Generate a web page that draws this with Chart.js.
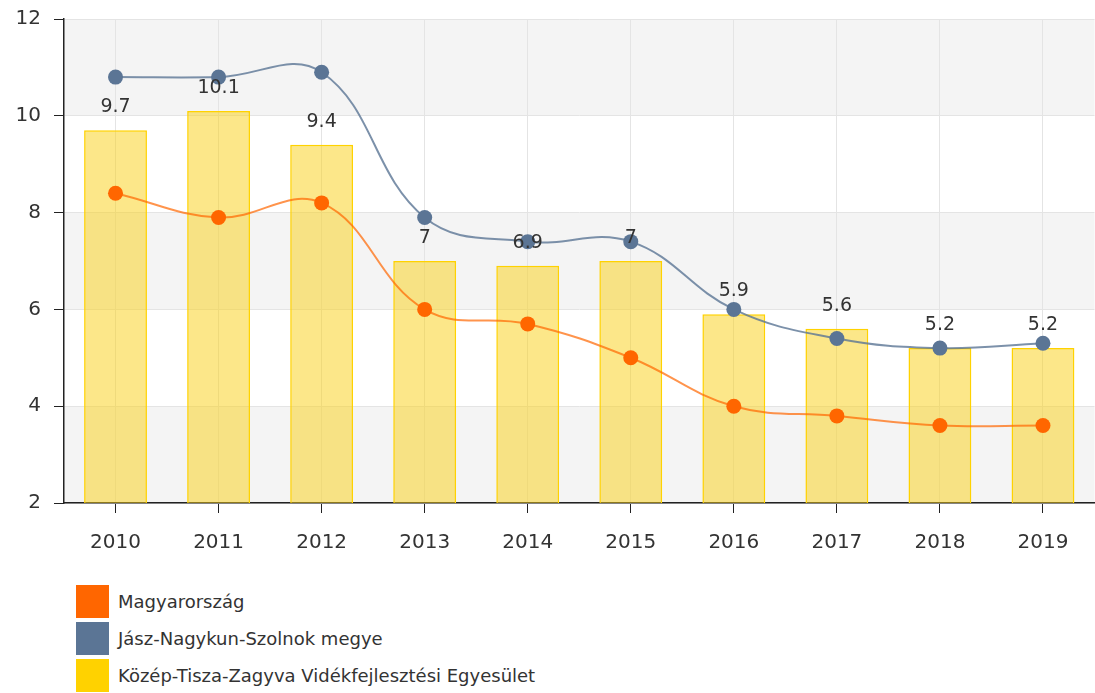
<!DOCTYPE html>
<html>
<head>
<meta charset="utf-8">
<script src="https://cdn.jsdelivr.net/npm/chart.js@4"></script>
<style>
  html, body { margin: 0; padding: 0; background: #fff; overflow: hidden; }
  #wrap { position: absolute; left: 0; top: 0; width: 1102px; height: 562px; }
  #legend { position: absolute; left: 76px; top: 584px; font-family: "DejaVu Sans", sans-serif; font-size: 18px; color: #333; }
  .item { display: flex; align-items: center; height: 35px; margin-bottom: 2px; }
  .box { width: 33px; height: 33px; margin-right: 9px; }
</style>
</head>
<body>
<div id="wrap"><canvas id="chart"></canvas></div>
<div id="legend"></div>
<script>
const years = ['2010', '2011', '2012', '2013', '2014', '2015', '2016', '2017', '2018', '2019'];
const hungary = [8.4, 7.9, 8.2, 6.0, 5.7, 5.0, 4.0, 3.8, 3.6, 3.6];
const county  = [10.8, 10.8, 10.9, 7.9, 7.4, 7.4, 6.0, 5.4, 5.2, 5.3];
const region  = [9.7, 10.1, 9.4, 7, 6.9, 7, 5.9, 5.6, 5.2, 5.2];
const names = [
  'Magyarország',
  'Jász-Nagykun-Szolnok megye',
  'Közép-Tisza-Zagyva Vidékfejlesztési Egyesület'
];
const colors = ['#ff6600', '#5b7595', '#ffd200'];

const fontFamily = '"DejaVu Sans", sans-serif';

// grey bands between every other pair of y ticks
const bands = {
  id: 'bands',
  beforeDraw: function(chart) {
    const ctx = chart.ctx, y = chart.scales.y, area = chart.chartArea;
    ctx.save();
    ctx.fillStyle = '#f4f4f4';
    for (let v = 12; v > 2; v -= 4) {
      const top = y.getPixelForValue(v), bottom = y.getPixelForValue(v - 2);
      ctx.fillRect(area.left, top, area.right - area.left, bottom - top);
    }
    ctx.restore();
  }
};

// value labels above the bars
const barLabels = {
  id: 'barLabels',
  afterDatasetsDraw: function(chart) {
    const ctx = chart.ctx;
    const meta = chart.getDatasetMeta(2);
    ctx.save();
    ctx.font = '19px ' + fontFamily;
    ctx.fillStyle = '#333';
    ctx.textAlign = 'center';
    ctx.textBaseline = 'middle';
    meta.data.forEach((bar, i) => {
      ctx.fillText(String(region[i]), bar.x, bar.y - 23);
    });
    ctx.restore();
  }
};

const ctx = document.getElementById('chart');

new Chart(ctx, {
  data: {
    labels: years,
    datasets: [{
      type: 'line',
      label: names[0],
      data: hungary,
      borderColor: 'rgba(255,102,0,0.7)',
      backgroundColor: colors[0],
      pointBackgroundColor: colors[0],
      pointBorderWidth: 0,
      pointRadius: 7.5,
      borderWidth: 2,
      tension: 0.4,
      order: 1
    }, {
      type: 'line',
      label: names[1],
      data: county,
      borderColor: 'rgba(91,117,149,0.8)',
      backgroundColor: colors[1],
      pointBackgroundColor: colors[1],
      pointBorderWidth: 0,
      pointRadius: 7.5,
      borderWidth: 2,
      tension: 0.4,
      order: 2
    }, {
      type: 'bar',
      label: names[2],
      data: region,
      backgroundColor: 'rgba(250,208,20,0.5)',
      borderColor: colors[2],
      borderWidth: 1.5,
      categoryPercentage: 1,
      barPercentage: 0.61,
      order: 3
    }]
  },
  options: {
    responsive: true,
    maintainAspectRatio: false,
    animation: false,
    layout: { padding: { top: 0, right: 0, left: 0, bottom: 0 } },
    plugins: {
      legend: { display: false },
      tooltip: { enabled: false }
    },
    scales: {
      x: {
        offset: true,
        grid: { offset: false, color: '#e4e4e4', tickColor: '#222', tickLength: 10 },
        border: { color: '#222', width: 1.5 },
        ticks: { color: '#333', padding: 18, font: { family: fontFamily, size: 20 } },
        afterFit: function(scale) { scale.height = 59; }
      },
      y: {
        min: 2,
        max: 12,
        ticks: { stepSize: 2, color: '#333', padding: 13, font: { family: fontFamily, size: 20 } },
        grid: { color: '#e4e4e4', tickColor: '#222', tickLength: 10 },
        border: { color: '#222', width: 1.5 },
        afterFit: function(scale) {
          scale.width = 64;
          scale.paddingTop = 19;
          scale.paddingBottom = 0;
        }
      }
    }
  },
  plugins: [bands, barLabels]
});

const legendEl = document.getElementById('legend');
names.forEach((name, i) => {
  const row = document.createElement('div');
  row.className = 'item';
  row.innerHTML = '<div class="box" style="background:' + colors[i] + '"></div><span>' + name + '</span>';
  legendEl.appendChild(row);
});
</script>
</body>
</html>
